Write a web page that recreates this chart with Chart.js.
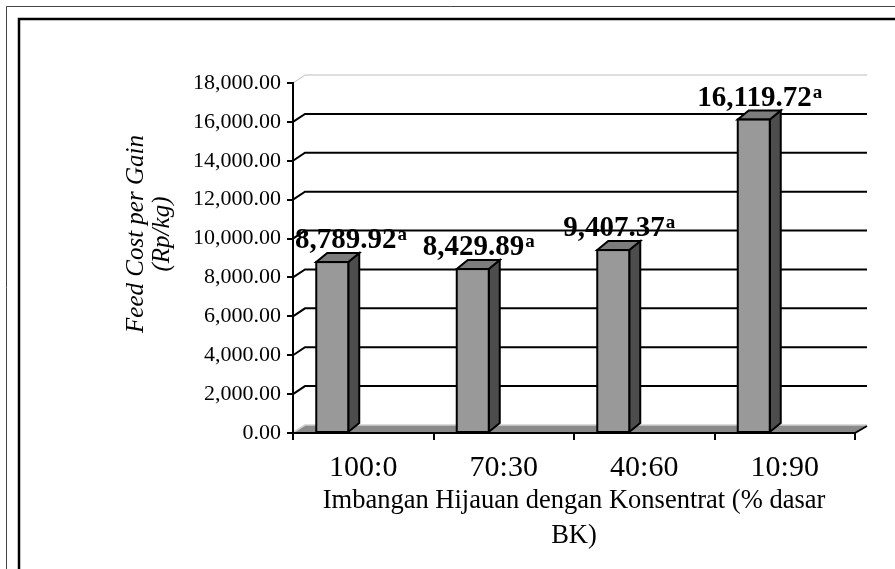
<!DOCTYPE html>
<html>
<head>
<meta charset="utf-8">
<script src="https://cdn.jsdelivr.net/npm/chart.js@4.4.1/dist/chart.umd.min.js"></script>
<style>
  html, body { margin: 0; padding: 0; background: #fff; }
</style>
</head>
<body>
<canvas id="feedChart" width="895" height="569"></canvas>
<script>
// data
const categories = ['100:0', '70:30', '40:60', '10:90'];
const feedCost = [8789.92, 8429.89, 9407.37, 16119.72];
const notation = ['a', 'a', 'a', 'a'];
const yTicks = [0, 2000, 4000, 6000, 8000, 10000, 12000, 14000, 16000, 18000];
const xTitle = ['Imbangan Hijauan dengan Konsentrat (% dasar', 'BK)'];
const yTitle = ['Feed Cost per Gain', '(Rp/kg)'];

const SERIF = '"Liberation Serif", "Times New Roman", serif';
const fmt = v => v.toLocaleString('en-US', { minimumFractionDigits: 2, maximumFractionDigits: 2 });

// 3d look: wall/floor depth and bar depth
const WALL_DX = 12, WALL_DY = 8;
const BAR_DX = 11, BAR_DY = 9;
const BAR_W = 32, BAR_SHIFT = 47;

const framePlugin = {
  id: 'frame',
  beforeDraw(chart) {
    const ctx = chart.ctx;
    ctx.save();
    ctx.fillStyle = '#fff';
    ctx.fillRect(0, 0, chart.width, chart.height);
    ctx.strokeStyle = '#444';
    ctx.lineWidth = 1;
    ctx.beginPath();
    ctx.moveTo(6.5, chart.height);
    ctx.lineTo(6.5, 6.5);
    ctx.lineTo(chart.width, 6.5);
    ctx.stroke();
    ctx.strokeStyle = '#000';
    ctx.lineWidth = 2.5;
    ctx.beginPath();
    ctx.moveTo(19, chart.height);
    ctx.lineTo(19, 19);
    ctx.lineTo(chart.width, 19);
    ctx.stroke();
    ctx.restore();
  }
};

const wallPlugin = {
  id: 'wall',
  beforeDatasetsDraw(chart) {
    const { ctx, chartArea: a, scales: { y } } = chart;
    ctx.save();
    // floor
    const base = y.getPixelForValue(0);
    ctx.fillStyle = '#8a8a8a';
    ctx.beginPath();
    ctx.moveTo(a.left, base);
    ctx.lineTo(a.right, base);
    ctx.lineTo(a.right + WALL_DX, base - WALL_DY);
    ctx.lineTo(a.left + WALL_DX, base - WALL_DY);
    ctx.closePath();
    ctx.fill();
    ctx.strokeStyle = '#cfcfcf';
    ctx.lineWidth = 1.5;
    ctx.beginPath();
    ctx.moveTo(a.left + 1, base - 1);
    ctx.lineTo(a.left + WALL_DX, base - WALL_DY);
    ctx.lineTo(a.right + WALL_DX, base - WALL_DY);
    ctx.stroke();
    // back wall gridlines
    yTicks.forEach((t, i) => {
      if (t === 0) return;
      const yf = y.getPixelForValue(t);
      const top = i === yTicks.length - 1;
      ctx.strokeStyle = top ? '#bdbdbd' : '#000';
      ctx.lineWidth = top ? 1 : 2;
      ctx.beginPath();
      ctx.moveTo(a.left, yf);
      ctx.lineTo(a.left + WALL_DX, yf - WALL_DY);
      ctx.lineTo(a.right + WALL_DX, yf - WALL_DY);
      ctx.stroke();
    });
    ctx.restore();
  },
  afterDatasetsDraw(chart) {
    const { ctx, chartArea: a } = chart;
    const meta = chart.getDatasetMeta(0);
    ctx.save();
    ctx.lineWidth = 2;
    ctx.lineJoin = 'miter';
    ctx.strokeStyle = '#000';
    const boxes = [];
    meta.data.forEach((el, i) => {
      const x0 = el.x - BAR_SHIFT, x1 = x0 + BAR_W;
      const top = el.y, base = el.base;
      // side
      ctx.fillStyle = '#4d4d4d';
      ctx.beginPath();
      ctx.moveTo(x1, base);
      ctx.lineTo(x1, top);
      ctx.lineTo(x1 + BAR_DX, top - BAR_DY);
      ctx.lineTo(x1 + BAR_DX, base - BAR_DY);
      ctx.closePath();
      ctx.fill(); ctx.stroke();
      // top
      ctx.fillStyle = '#7c7c7c';
      ctx.beginPath();
      ctx.moveTo(x0, top);
      ctx.lineTo(x1, top);
      ctx.lineTo(x1 + BAR_DX, top - BAR_DY);
      ctx.lineTo(x0 + BAR_DX, top - BAR_DY);
      ctx.closePath();
      ctx.fill(); ctx.stroke();
      // front
      ctx.fillStyle = '#999999';
      ctx.fillRect(x0, top, BAR_W, base - top);
      ctx.strokeRect(x0, top, BAR_W, base - top);
      boxes.push({ cx: (x0 + x1 + BAR_DX) / 2, y: top - BAR_DY - 5 });
    });

    // value labels with superscript notation
    ctx.fillStyle = '#000';
    ctx.textBaseline = 'alphabetic';
    ctx.textAlign = 'left';
    let prevEnd = -Infinity;
    boxes.forEach((b, i) => {
      const main = fmt(feedCost[i]);
      ctx.font = 'bold 29px ' + SERIF;
      const wMain = ctx.measureText(main).width;
      ctx.font = 'bold 19px ' + SERIF;
      const wSup = ctx.measureText(notation[i]).width;
      let x = b.cx - (wMain + wSup) / 2;
      x = Math.max(x, a.left + 2, prevEnd + 10);
      ctx.font = 'bold 29px ' + SERIF;
      ctx.fillText(main, x, b.y);
      ctx.font = 'bold 19px ' + SERIF;
      ctx.fillText(notation[i], x + wMain + 1, b.y - 8);
      prevEnd = x + wMain + wSup;
    });
    ctx.restore();
  },
  afterDraw(chart) {
    const { ctx, chartArea: a } = chart;
    ctx.save();
    // closing edge at the end of the x axis
    ctx.strokeStyle = '#000';
    ctx.lineWidth = 2;
    ctx.beginPath();
    ctx.moveTo(a.right, a.bottom);
    ctx.lineTo(a.right + WALL_DX, a.bottom - WALL_DY + 1);
    ctx.stroke();
    // y axis title
    ctx.translate(136, 234);
    ctx.rotate(-Math.PI / 2);
    ctx.fillStyle = '#000';
    ctx.font = 'italic 25px ' + SERIF;
    ctx.textAlign = 'center';
    ctx.textBaseline = 'middle';
    ctx.fillText(yTitle[0], 0, 0);
    ctx.fillText(yTitle[1], 0, 26);
    ctx.restore();
  }
};

new Chart(document.getElementById('feedChart'), {
  type: 'bar',
  data: {
    labels: categories,
    datasets: [{
      data: feedCost,
      backgroundColor: 'rgba(0,0,0,0)',
      borderWidth: 0
    }]
  },
  options: {
    responsive: false,
    animation: false,
    layout: { padding: { top: 83, right: 40, left: 0, bottom: 0 } },
    plugins: {
      legend: { display: false },
      tooltip: { enabled: false }
    },
    scales: {
      x: {
        afterFit: s => { s.height = 136; },
        grid: { offset: true, drawOnChartArea: false, drawTicks: true, tickLength: 7, color: '#000', lineWidth: 2 },
        border: { display: true, color: '#000', width: 2, z: 1 },
        ticks: { color: '#000', padding: 10, font: { family: SERIF, size: 30 } },
        title: {
          display: true,
          text: xTitle,
          color: '#000',
          font: { family: SERIF, size: 26.5, lineHeight: 1.3 },
          padding: { top: 0, bottom: 16 }
        }
      },
      y: {
        min: yTicks[0],
        max: yTicks[yTicks.length - 1],
        afterFit: s => { s.width = 293; },
        afterBuildTicks: s => { s.ticks = yTicks.map(v => ({ value: v })); },
        grid: { drawOnChartArea: false, drawTicks: true, tickLength: 6, color: '#000', lineWidth: 2 },
        border: { display: true, color: '#000', width: 2, z: 1 },
        ticks: {
          color: '#000',
          padding: 6,
          font: { family: SERIF, size: 22 },
          callback: v => fmt(v)
        }
      }
    }
  },
  plugins: [framePlugin, wallPlugin]
});
</script>
</body>
</html>
